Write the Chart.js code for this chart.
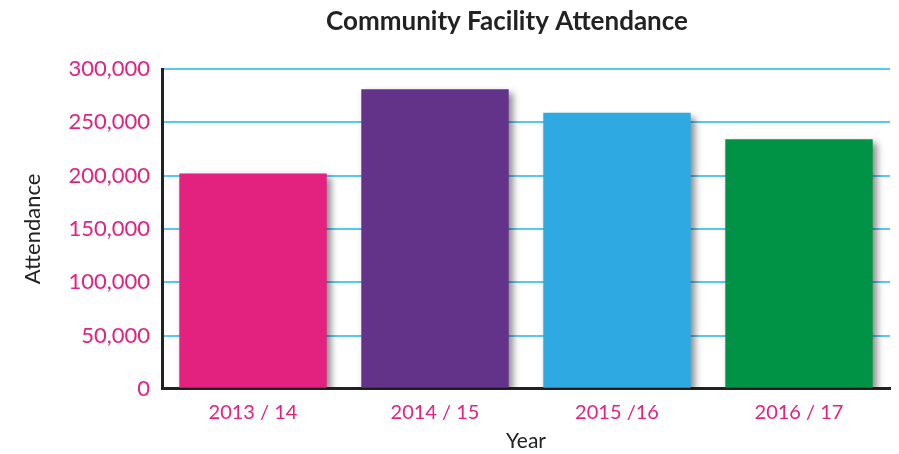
<!DOCTYPE html>
<html>
<head>
<meta charset="utf-8">
<script src="https://cdn.jsdelivr.net/npm/chart.js@4"></script>
<style>
  html, body { margin: 0; padding: 0; background: #fff; }
  #wrap { width: 899px; height: 454px; }
</style>
</head>
<body>
<div id="wrap"><canvas id="chart"></canvas></div>
<script>
// Chart data
const years = ['2013 / 14', '2014 / 15', '2015 /16', '2016 / 17'];
const attendance = [202000, 281000, 259000, 234000];
const barColors = ['#e3217f', '#63338a', '#2ea9e1', '#009345'];
const chartTitle = 'Community Facility Attendance';

const pink = '#e3217f';
const dark = '#222222';

// Drop shadow under the bars
const barShadow = {
    id: 'barShadow',
    beforeDatasetsDraw(chart) {
        const ctx = chart.ctx;
        ctx.save();
        ctx.shadowColor = 'rgba(0,0,0,0.45)';
        ctx.shadowBlur = 7;
        ctx.shadowOffsetX = 4;
        ctx.shadowOffsetY = 4;
    },
    afterDatasetsDraw(chart) {
        chart.ctx.restore();
    }
};

// Title sits a bit right of the canvas centre, like the original
const offsetTitle = {
    id: 'offsetTitle',
    afterDraw(chart) {
        const ctx = chart.ctx;
        ctx.save();
        ctx.font = 'bold 26px Lato';
        ctx.fillStyle = dark;
        ctx.textAlign = 'center';
        ctx.textBaseline = 'middle';
        ctx.fillText(chartTitle, 507, 22);
        ctx.restore();
    }
};

new Chart(document.getElementById('chart'), {
    type: 'bar',
    data: {
        labels: years,
        datasets: [{
            data: attendance,
            backgroundColor: barColors,
            borderWidth: 0,
            categoryPercentage: 0.81,
            barPercentage: 1
        }]
    },
    options: {
        responsive: true,
        maintainAspectRatio: false,
        animation: false,
        layout: { padding: { left: 0, right: 9, top: 69, bottom: 0 } },
        plugins: {
            legend: { display: false },
            tooltip: { enabled: false },
            title: { display: false }
        },
        scales: {
            x: {
                grid: { display: false },
                border: { color: dark, width: 3 },
                ticks: {
                    color: pink,
                    font: { family: 'Lato', size: 20 },
                    padding: 4
                },
                title: {
                    display: true,
                    text: 'Year',
                    color: dark,
                    font: { family: 'Lato', size: 21 },
                    padding: { top: 0, bottom: 0 }
                }
            },
            y: {
                min: 0,
                max: 300000,
                afterFit(scale) { scale.width = 162; },
                grid: { color: '#5bc8f0', lineWidth: 2, drawTicks: false },
                border: { color: dark, width: 3 },
                ticks: {
                    stepSize: 50000,
                    color: pink,
                    font: { family: 'Lato', size: 22 },
                    padding: 12,
                    callback: function(value) {
                        return value.toLocaleString('en-US');
                    }
                },
                title: {
                    display: true,
                    text: 'Attendance',
                    color: dark,
                    font: { family: 'Lato', size: 22 },
                    padding: { top: 20, bottom: 0 }
                }
            }
        }
    },
    plugins: [barShadow, offsetTitle]
});
</script>
</body>
</html>
